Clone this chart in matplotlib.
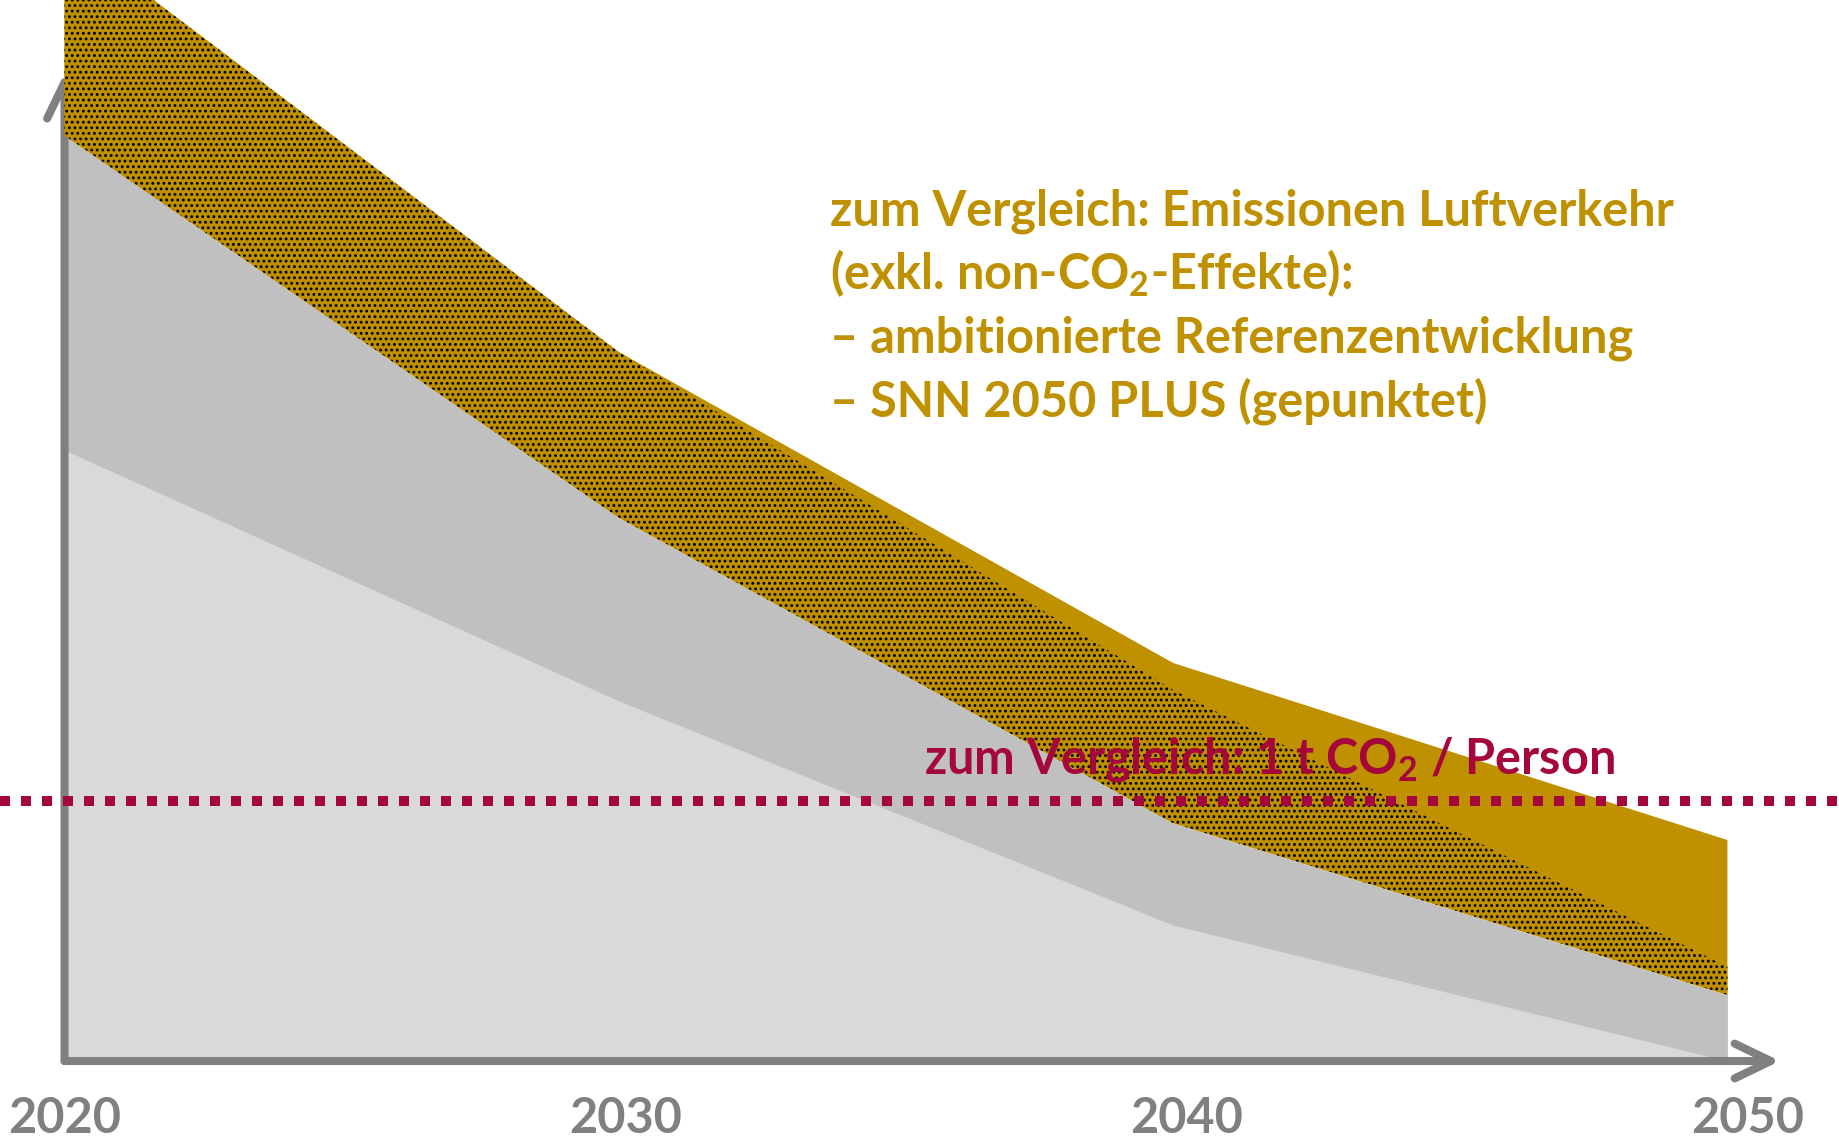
"""
Emissionspfade mit Vergleich Luftverkehr und 1 t CO2 / Person
"""
import matplotlib.pyplot as plt

# data (t CO2 per person)
years = [2020, 2030, 2040, 2050]
light_gray = [2.35, 1.385, 0.523, 0.0]
mid_gray = [3.56, 2.09, 0.915, 0.254]
air_reference = [4.34, 2.727, 1.531, 0.85]
air_snn_plus = [4.34, 2.727, 1.427, 0.362]
target_line = 1.0
tick_labels = ['2020', '2030', '2040', '2050']
legend_lines = ['zum Vergleich: Emissionen Luftverkehr',
                '(exkl. non-CO$_2$-Effekte):',
                '– ambitionierte Referenzentwicklung',
                '– SNN 2050 PLUS (gepunktet)']
target_text = 'zum Vergleich: 1 t CO$_2$ / Person'

GOLD = '#BF9000'
RED = '#A5073C'
AXIS = '#808080'

plt.rcParams['font.family'] = ['Lato', 'DejaVu Sans']
plt.rcParams['font.weight'] = 'bold'
plt.rcParams['mathtext.fontset'] = 'custom'
plt.rcParams['mathtext.rm'] = 'Lato:bold'
plt.rcParams['mathtext.it'] = 'Lato:bold'
plt.rcParams['mathtext.bf'] = 'Lato:bold'
plt.rcParams['mathtext.default'] = 'rm'
plt.rcParams['hatch.linewidth'] = 1.3

fig = plt.figure(figsize=(18.39, 11.39), dpi=100)
ax = fig.add_axes([0, 0, 1, 1])
ax.set_xlim(2018.836, 2052.013)
ax.set_ylim(-0.3, 4.081)
ax.set_axis_off()

# grey areas
ax.fill_between(years, 0, mid_gray, color='#C0C0C0', lw=0, zorder=1)
ax.fill_between(years, 0, light_gray, color='#D9D9D9', lw=0, zorder=1.1)

# axis arrows
arrow = dict(arrowstyle='->,head_length=2.6,head_width=1.25', lw=5.8,
             color=AXIS, capstyle='round', joinstyle='round',
             shrinkA=0, shrinkB=0)
ax.annotate('', xy=(2020, 3.80), xytext=(2020, 0), arrowprops=arrow, zorder=2)
ax.annotate('', xy=(2050.95, 0), xytext=(2020, 0), arrowprops=arrow, zorder=2)

# air traffic bands
ax.fill_between(years, mid_gray, air_reference, facecolor=GOLD, lw=0, zorder=3)
ax.fill_between(years, mid_gray, air_snn_plus, facecolor=GOLD,
                edgecolor='black', hatch='...', lw=0, zorder=4)

# 1 t CO2 per person
ax.axhline(target_line, color=RED, lw=7.2, linestyle=(0, (1, 1.1)),
           dash_capstyle='butt', zorder=5)
ax.text(2035.5, 1.104, target_text, color=RED, fontsize=35,
        fontweight='bold', ha='left', va='baseline', zorder=6)

for i, line in enumerate(legend_lines):
    ax.text(2033.81, 3.212 - i * 0.244, line, color=GOLD, fontsize=35,
            fontweight='bold', ha='left', va='baseline', zorder=6)

for year, label in zip(years, tick_labels):
    ax.text(year + (year - 2020) * 0.012, -0.275, label, color=AXIS,
            fontsize=35, fontweight='bold', ha='center', va='baseline')

fig.savefig('out.png', dpi=100)
